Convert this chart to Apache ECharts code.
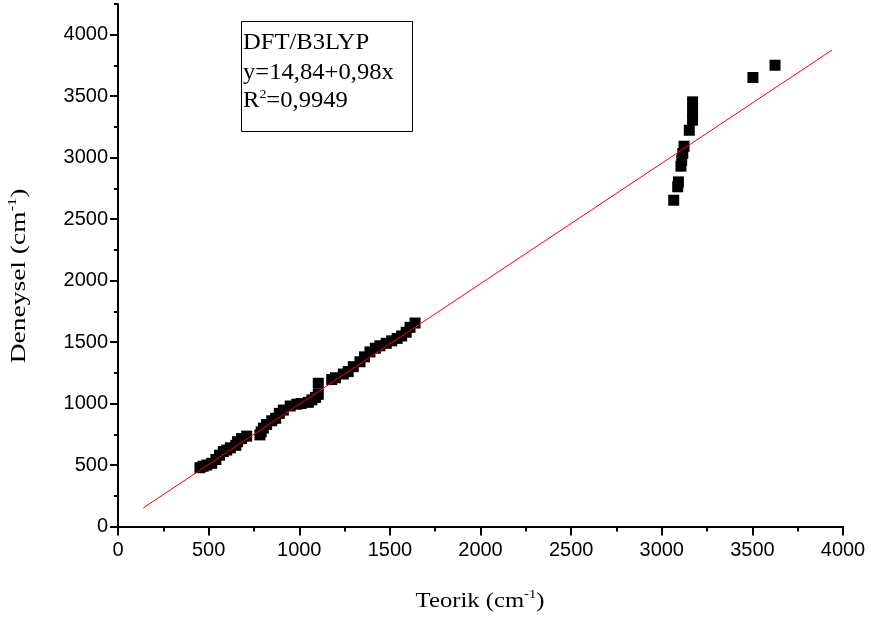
<!DOCTYPE html>
<html>
<head>
<meta charset="utf-8">
<script src="https://cdn.jsdelivr.net/npm/echarts@6/dist/echarts.min.js"></script>
<style>html,body{margin:0;padding:0;background:#fff}#c{width:871px;height:621px}</style>
</head>
<body>
<div id="c"></div>
<script>
// Data
const teorik = [452,470,490,517,540,560,581,600,620,650,660,682,710,783,790,802,820,848,870,890,912,950,986,1010,1050,1070,1090,1105,1105,1179,1200,1243,1270,1298,1335,1360,1390,1420,1445,1480,1510,1540,1565,1590,1611,1639,
  3066,3088,3092,3106,3110,3116,3123,3152,3170,3170,3170,3503,3625];
const deneysel = [478,490,500,514,545,580,610,622,640,660,690,715,735,745,770,800,830,860,880,920,947,980,995,1000,1010,1030,1050,1075,1165,1195,1210,1240,1260,1300,1340,1380,1420,1450,1470,1490,1510,1530,1550,1580,1620,1655,
  2654,2763,2803,2931,2980,3034,3093,3223,3305,3372,3454,3652,3752];
const fitX = [140, 3940];
const fitY = [152, 3876];
const xTicks = [0,500,1000,1500,2000,2500,3000,3500,4000];
const yMajorTicks = [0,500,1000,1500,2000,2500,3000,3500,4000];

const pts = teorik.map((x,i)=>[x, deneysel[i]]);
const fitPts = fitX.map((x,i)=>[x, fitY[i]]);
const sans = '"Liberation Sans", Arial, sans-serif';
const serif = '"Liberation Serif", "Times New Roman", serif';
const axisLine = {show:true, lineStyle:{color:'#000', width:2}};
const richT = {a:{fontSize:22, fontFamily:serif, lineHeight:26, fill:'#000'}, s:{fontSize:13, fontFamily:serif, verticalAlign:'top', lineHeight:24, fill:'#000'}};

const chart = echarts.init(document.getElementById('c'), null, {renderer:'canvas'});
chart.setOption({
  animation:false,
  backgroundColor:'#fff',
  grid:{left:118, right:28, top:4, bottom:94.5, containLabel:false},
  xAxis:{type:'value', min:0, max:4000, interval:500,
    axisLine:axisLine,
    axisTick:{show:true, inside:false, length:9, lineStyle:{color:'#000', width:2}},
    minorTick:{show:true, splitNumber:2, length:5, lineStyle:{color:'#000', width:2}},
    axisLabel:{color:'#000', fontFamily:sans, fontSize:20, margin:14,
      formatter:v=> xTicks.indexOf(v)>=0 ? String(v) : ''},
    splitLine:{show:false}},
  yAxis:[
    {type:'value', min:0, max:4250, interval:250,
     axisLine:axisLine,
     axisTick:{show:true, inside:false, length:4, lineStyle:{color:'#000', width:2}},
     axisLabel:{color:'#000', fontFamily:sans, fontSize:20, margin:10,
       formatter:v=> yMajorTicks.indexOf(v)>=0 ? String(v) : ''},
     splitLine:{show:false}},
    {type:'value', min:0, max:4250, interval:250, position:'left',
     axisLine:{show:false},
     axisTick:{show:true, inside:false, length:8, customValues:yMajorTicks, lineStyle:{color:'#000', width:2}},
     axisLabel:{show:false},
     splitLine:{show:false}}
  ],
  series:[
    {type:'scatter', data:pts, symbol:'rect', symbolSize:11, itemStyle:{color:'#000', opacity:1}, z:3},
    {type:'line', data:fitPts, showSymbol:false, symbol:'none', lineStyle:{color:'#ff0000', width:1}, z:4}
  ],
  graphic:[
    {type:'rect', shape:{x:241.5, y:21.5, width:171, height:110}, style:{fill:'#fff', stroke:'#000', lineWidth:1}, z:10},
    {type:'text', x:243, y:43, z:11, scaleX:1.07, style:{text:'DFT/B3LYP', font:'23px '+serif, fill:'#000', textVerticalAlign:'middle', textAlign:'left'}},
    {type:'text', x:243, y:73, z:11, scaleX:1.07, style:{text:'y=14,84+0,98x', font:'23px '+serif, fill:'#000', textVerticalAlign:'middle', textAlign:'left'}},
    {type:'text', x:243, y:101, z:11, scaleX:1.07, style:{text:'{a|R}{s|2}{a|=0,9949}', fill:'#000', textVerticalAlign:'middle', textAlign:'left',
      rich:{a:{fontSize:23, fontFamily:serif, lineHeight:26, fill:'#000'}, s:{fontSize:13, fontFamily:serif, verticalAlign:'top', lineHeight:24, fill:'#000'}}}},
    {type:'text', x:480, y:601, z:11, scaleX:1.12, style:{text:'{a|Teorik (cm}{s|-1}{a|)}', fill:'#000', textVerticalAlign:'middle', textAlign:'center', rich:richT}},
    {type:'text', x:19, y:276, z:11, rotation:Math.PI/2, scaleX:1.25, style:{text:'{a|Deneysel (cm}{s|-1}{a|)}', fill:'#000', textVerticalAlign:'middle', textAlign:'center', rich:richT}}
  ]
});
</script>
</body>
</html>
